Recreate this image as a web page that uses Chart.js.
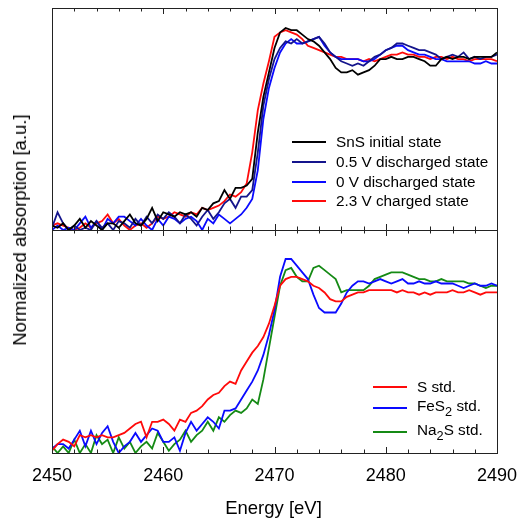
<!DOCTYPE html>
<html>
<head>
<meta charset="utf-8">
<script src="https://cdn.jsdelivr.net/npm/chart.js@4.4.1/dist/chart.umd.min.js"></script>
<style>
  body { margin: 0; background: #fff; font-family: "Liberation Sans", Arial, sans-serif; }
  #wrap { position: relative; width: 524px; height: 519px; }
  canvas { position: absolute; left: 0; }
  #topChart { top: 0; }
  #bottomChart { top: 225px; }
  #ytitle {
    position: absolute; left: 20px; top: 230px;
    transform: translate(-50%, -50%) rotate(-90deg);
    white-space: nowrap; font-size: 18.5px; color: #000;
  }
  .legend { position: absolute; font-size: 15.3px; color: #000; }
  .legend .row { position: absolute; left: 0; white-space: nowrap; }
  .legend .sw { position: absolute; left: 0; width: 34px; height: 2px; }
  .legend .txt { position: absolute; transform: translateY(-50%); }
</style>
</head>
<body>
<div id="wrap">
  <canvas id="topChart" width="524" height="240"></canvas>
  <canvas id="bottomChart" width="524" height="294"></canvas>
  <div id="ytitle">Normalized absorption [a.u.]</div>
  <div class="legend" id="topLegend" style="left:292px;top:0"></div>
  <div class="legend" id="bottomLegend" style="left:373px;top:0"></div>
</div>
<script>
// ===== Data =====
const energies = [
  2450, 2450.5, 2451, 2451.5, 2452, 2452.5, 2453, 2453.5, 2454, 2454.5,
  2455, 2455.5, 2456, 2456.5, 2457, 2457.5, 2458, 2458.5, 2459, 2459.5,
  2460, 2460.5, 2461, 2461.5, 2462, 2462.5, 2463, 2463.5, 2464, 2464.5,
  2465, 2465.5, 2466, 2466.5, 2467, 2467.5, 2468, 2468.5, 2469, 2469.5,
  2470, 2470.5, 2471, 2471.5, 2472, 2472.5, 2473, 2473.5, 2474, 2474.5,
  2475, 2475.5, 2476, 2476.5, 2477, 2477.5, 2478, 2478.5, 2479, 2479.5,
  2480, 2480.5, 2481, 2481.5, 2482, 2482.5, 2483, 2483.5, 2484, 2484.5,
  2485, 2485.5, 2486, 2486.5, 2487, 2487.5, 2488, 2488.5, 2489, 2489.5,
  2490
];

// top panel: SnS electrode states
const snsInitial = [
  0.02, 0.01, 0.03, 0.00, 0.02, 0.05, 0.01, 0.04, 0.02, 0.00,
  0.03, 0.03, 0.01, 0.04, 0.07, 0.03, 0.02, 0.05, 0.10, 0.04,
  0.08, 0.07, 0.06, 0.08, 0.07, 0.08, 0.06, 0.10, 0.09, 0.12,
  0.13, 0.18, 0.14, 0.19, 0.19, 0.20, 0.23, 0.44, 0.60, 0.71,
  0.82, 0.89, 0.91, 0.90, 0.90, 0.88, 0.86, 0.85, 0.83, 0.80,
  0.77, 0.73, 0.71, 0.71, 0.72, 0.70, 0.71, 0.72, 0.74, 0.77,
  0.77, 0.78, 0.77, 0.77, 0.78, 0.78, 0.77, 0.76, 0.74, 0.74,
  0.77, 0.78, 0.77, 0.78, 0.78, 0.77, 0.78, 0.78, 0.78, 0.78,
  0.80
];
const discharged05 = [
  0.01, 0.08, 0.03, 0.00, 0.02, 0.00, 0.01, 0.00, 0.04, 0.01,
  0.03, 0.00, 0.04, 0.03, 0.01, 0.05, 0.02, 0.06, 0.03, 0.07,
  0.05, 0.08, 0.06, 0.03, 0.07, 0.05, 0.02, 0.06, 0.09, 0.05,
  0.08, 0.12, 0.14, 0.10, 0.15, 0.15, 0.18, 0.35, 0.56, 0.68,
  0.77, 0.82, 0.85, 0.84, 0.86, 0.84, 0.85, 0.86, 0.87, 0.84,
  0.80, 0.78, 0.76, 0.75, 0.74, 0.75, 0.74, 0.76, 0.78, 0.79,
  0.81, 0.82, 0.84, 0.84, 0.83, 0.82, 0.81, 0.81, 0.80, 0.79,
  0.77, 0.78, 0.79, 0.78, 0.80, 0.77, 0.78, 0.77, 0.78, 0.78,
  0.79
];
const discharged0 = [
  0.00, 0.02, 0.00, 0.01, 0.00, 0.03, 0.06, 0.01, 0.04, 0.00,
  0.05, 0.03, 0.06, 0.06, 0.04, 0.02, 0.05, 0.02, 0.00, 0.05,
  0.02, 0.06, 0.05, 0.03, 0.05, 0.06, 0.04, 0.00, 0.05, 0.03,
  0.07, 0.05, 0.03, 0.05, 0.07, 0.10, 0.14, 0.27, 0.50, 0.64,
  0.73, 0.80, 0.84, 0.86, 0.84, 0.84, 0.85, 0.86, 0.87, 0.83,
  0.80, 0.78, 0.77, 0.77, 0.77, 0.77, 0.76, 0.76, 0.77, 0.79,
  0.81, 0.82, 0.83, 0.83, 0.81, 0.80, 0.79, 0.79, 0.78, 0.77,
  0.77, 0.76, 0.76, 0.76, 0.76, 0.76, 0.75, 0.75, 0.76, 0.75,
  0.75
];
const charged23 = [
  0.02, 0.03, 0.02, 0.01, 0.00, 0.01, 0.03, 0.01, 0.03, 0.04,
  0.07, 0.03, 0.05, 0.02, 0.00, 0.02, 0.03, 0.01, 0.03, 0.06,
  0.05, 0.06, 0.08, 0.07, 0.06, 0.08, 0.07, 0.10, 0.09, 0.10,
  0.11, 0.13, 0.16, 0.15, 0.17, 0.21, 0.35, 0.54, 0.66, 0.76,
  0.87, 0.89, 0.90, 0.89, 0.88, 0.86, 0.83, 0.82, 0.81, 0.80,
  0.79, 0.78, 0.78, 0.77, 0.77, 0.77, 0.76, 0.77, 0.76, 0.77,
  0.78, 0.79, 0.79, 0.80, 0.79, 0.79, 0.78, 0.78, 0.77, 0.78,
  0.78, 0.77, 0.78, 0.77, 0.77, 0.76, 0.77, 0.77, 0.77, 0.77,
  0.76
];

// bottom panel: reference standards
const sStd = [
  0.01, 0.04, 0.06, 0.05, 0.03, 0.08, 0.07, 0.08, 0.07, 0.08,
  0.07, 0.07, 0.08, 0.09, 0.11, 0.13, 0.14, 0.07, 0.14, 0.14,
  0.15, 0.13, 0.10, 0.15, 0.14, 0.18, 0.19, 0.21, 0.24, 0.26,
  0.27, 0.30, 0.32, 0.31, 0.37, 0.41, 0.45, 0.48, 0.52, 0.58,
  0.66, 0.75, 0.78, 0.79, 0.79, 0.78, 0.77, 0.75, 0.74, 0.72,
  0.69, 0.68, 0.68, 0.70, 0.71, 0.72, 0.72, 0.73, 0.73, 0.73,
  0.73, 0.73, 0.72, 0.73, 0.72, 0.72, 0.71, 0.72, 0.71, 0.72,
  0.72, 0.72, 0.73, 0.72, 0.72, 0.73, 0.72, 0.71, 0.72, 0.72,
  0.72
];
const fes2Std = [
  0.02, 0.04, 0.04, 0.02, 0.06, 0.10, 0.03, 0.10, 0.04, 0.09,
  0.12, 0.05, 0.00, 0.03, 0.05, 0.09, 0.05, 0.08, 0.11, 0.10,
  0.05, 0.05, 0.07, 0.01, 0.09, 0.14, 0.10, 0.13, 0.16, 0.14,
  0.11, 0.19, 0.19, 0.20, 0.24, 0.28, 0.32, 0.37, 0.44, 0.53,
  0.64, 0.79, 0.87, 0.87, 0.84, 0.81, 0.78, 0.71, 0.65, 0.63,
  0.63, 0.63, 0.67, 0.72, 0.75, 0.77, 0.77, 0.76, 0.77, 0.78,
  0.77, 0.76, 0.77, 0.78, 0.76, 0.76, 0.77, 0.76, 0.76, 0.77,
  0.76, 0.76, 0.76, 0.75, 0.74, 0.75, 0.76, 0.75, 0.75, 0.76,
  0.75
];
const na2sStd = [
  0.03, 0.00, 0.03, 0.00, 0.06, 0.00, 0.04, 0.00, 0.08, 0.04,
  0.06, 0.00, 0.07, 0.02, 0.05, 0.00, 0.03, 0.05, 0.02, 0.09,
  0.05, 0.01, 0.04, 0.06, 0.10, 0.05, 0.08, 0.10, 0.14, 0.10,
  0.16, 0.14, 0.17, 0.19, 0.18, 0.20, 0.24, 0.22, 0.33, 0.47,
  0.61, 0.75, 0.82, 0.83, 0.79, 0.77, 0.77, 0.83, 0.84, 0.82,
  0.80, 0.78, 0.72, 0.73, 0.73, 0.73, 0.73, 0.75, 0.78, 0.79,
  0.80, 0.81, 0.81, 0.81, 0.80, 0.79, 0.78, 0.78, 0.77, 0.77,
  0.78, 0.77, 0.77, 0.77, 0.77, 0.76, 0.76, 0.75, 0.74, 0.75,
  0.75
];

const xTickLabels = [2450, 2460, 2470, 2480, 2490];

const topNames = ["SnS initial state", "0.5 V discharged state", "0 V discharged state", "2.3 V charged state"];
const topColors = ["#000000", "#14148c", "#0a0aff", "#ff0a0a"];
const bottomNames = ["S std.", "FeS<sub>2</sub> std.", "Na<sub>2</sub>S std."];
const bottomColors = ["#ff0a0a", "#0a0aff", "#158a15"];

const FONT = '"Liberation Sans", Arial, sans-serif';

// ===== Helpers =====
function toPoints(values) {
  return energies.map((e, i) => ({ x: e, y: values[i] }));
}

function makeDatasets(seriesList, colors) {
  return seriesList.map((vals, i) => ({
    data: toPoints(vals),
    borderColor: colors[i],
    borderWidth: 1.8,
    pointRadius: 0,
    tension: 0,
    fill: false
  }));
}

// frame with inward ticks on top and bottom edges, optional x labels
const framePlugin = {
  id: 'frame',
  afterDraw(chart, args, opts) {
    const { ctx, chartArea: a, scales } = chart;
    const x = scales.x;
    ctx.save();
    ctx.strokeStyle = '#222';
    ctx.lineWidth = 1;
    ctx.strokeRect(Math.round(a.left) + 0.5, Math.round(a.top) + 0.5,
      Math.round(a.right - a.left), Math.round(a.bottom - a.top));
    ctx.beginPath();
    for (let v = 2450; v <= 2490; v += 2) {
      const px = Math.round(x.getPixelForValue(v)) + 0.5;
      const len = (v % 10 === 0) ? 6 : 3.5;
      ctx.moveTo(px, a.top);
      ctx.lineTo(px, a.top + len);
      ctx.moveTo(px, a.bottom);
      ctx.lineTo(px, a.bottom - len);
    }
    ctx.stroke();

    if (opts.labels) {
      ctx.fillStyle = '#000';
      ctx.textAlign = 'center';
      ctx.textBaseline = 'middle';
      ctx.font = '18px ' + FONT;
      xTickLabels.forEach(v => {
        ctx.fillText(String(v), x.getPixelForValue(v), a.bottom + 23);
      });
      ctx.font = '18.5px ' + FONT;
      ctx.fillText('Energy [eV]', (a.left + a.right) / 2 - 1, a.bottom + 56);
    }
    ctx.restore();
  }
};

function baseOptions(pad, showLabels) {
  return {
    responsive: false,
    animation: false,
    layout: { padding: pad },
    plugins: {
      legend: { display: false },
      tooltip: { enabled: false },
      frame: { labels: showLabels }
    },
    scales: {
      x: { type: 'linear', min: 2450, max: 2490, display: false },
      y: { min: 0, max: 1, display: false }
    }
  };
}

// ===== Charts =====
new Chart(document.getElementById('topChart'), {
  type: 'line',
  data: { datasets: makeDatasets([snsInitial, discharged05, discharged0, charged23], topColors) },
  options: baseOptions({ left: 52, right: 27, top: 8, bottom: 10 }, false),
  plugins: [framePlugin]
});

new Chart(document.getElementById('bottomChart'), {
  type: 'line',
  data: { datasets: makeDatasets([sStd, fes2Std, na2sStd], bottomColors) },
  options: baseOptions({ left: 52, right: 27, top: 5, bottom: 66 }, true),
  plugins: [framePlugin]
});

// ===== Legends =====
function buildLegend(el, names, colors, rowsY) {
  names.forEach((name, i) => {
    const row = document.createElement('div');
    row.className = 'row';
    row.style.top = rowsY[i] + 'px';
    row.innerHTML = `<div class="sw" style="background:${colors[i]};top:-1px"></div>` +
      `<div class="txt" style="left:44px">${name}</div>`;
    el.appendChild(row);
  });
}

buildLegend(document.getElementById('topLegend'), topNames, topColors, [142, 162, 182, 201]);
buildLegend(document.getElementById('bottomLegend'), bottomNames, bottomColors, [387, 408, 432]);
</script>
</body>
</html>
